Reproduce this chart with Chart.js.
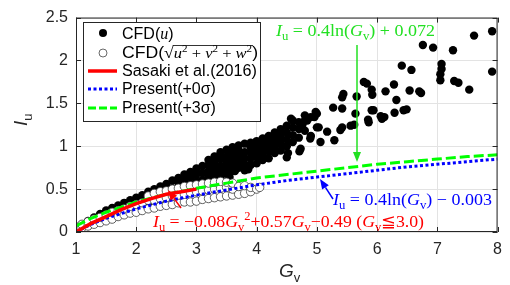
<!DOCTYPE html>
<html>
<head>
<meta charset="utf-8">
<script src="https://cdn.jsdelivr.net/npm/chart.js@4"></script>
<style>
  html, body { margin: 0; padding: 0; background: #fff; }
  canvas { display: block; }
</style>
</head>
<body>
<canvas id="chart" width="510" height="285"></canvas>
<script>
// values
const xTicks = [1, 2, 3, 4, 5, 6, 7, 8];
const yTicks = [0, 0.5, 1, 1.5, 2, 2.5];

// CFD(u) : filled dots
const cfdU = [
  [1.00,0.02],[1.00,0.06],[1.05,0.05],[1.10,0.05],[1.10,0.09],[1.15,0.08],
  [1.20,0.07],[1.20,0.13],[1.25,0.10],[1.30,0.10],[1.30,0.17],[1.35,0.14],
  [1.40,0.12],[1.40,0.17],[1.40,0.21],[1.50,0.15],[1.50,0.20],[1.50,0.25],
  [1.60,0.16],[1.60,0.22],[1.60,0.28],[1.70,0.19],[1.70,0.25],[1.70,0.31],
  [1.80,0.21],[1.80,0.28],[1.80,0.34],[1.90,0.24],[1.90,0.31],[1.90,0.37],
  [2.00,0.27],[2.00,0.34],[2.00,0.40],[2.10,0.28],[2.10,0.35],[2.10,0.43],
  [2.20,0.31],[2.20,0.39],[2.20,0.47],[2.30,0.34],[2.30,0.42],[2.30,0.50],
  [2.40,0.37],[2.40,0.45],[2.40,0.53],[2.50,0.40],[2.50,0.48],[2.50,0.56],
  [2.60,0.43],[2.60,0.51],[2.60,0.60],
  [2.70,0.45],[2.70,0.52],[2.70,0.58],[2.70,0.63],
  [2.80,0.47],[2.80,0.54],[2.80,0.61],[2.80,0.67],
  [2.90,0.49],[2.90,0.56],[2.90,0.64],[2.90,0.70],
  [3.00,0.52],[3.00,0.59],[3.00,0.67],[3.00,0.74],
  [3.10,0.54],[3.10,0.61],[3.10,0.69],[3.10,0.77],
  [3.20,0.57],[3.20,0.64],[3.20,0.71],[3.20,0.78],[3.20,0.84],
  [3.30,0.60],[3.30,0.67],[3.30,0.74],[3.30,0.81],[3.30,0.88],
  [3.40,0.63],[3.40,0.70],[3.40,0.77],[3.40,0.85],[3.40,0.93],
  [3.50,0.68],[3.50,0.74],[3.50,0.81],[3.50,0.88],[3.50,0.96],
  [3.60,0.71],[3.60,0.78],[3.60,0.85],[3.60,0.92],[3.60,0.99],
  [3.70,0.75],[3.70,0.82],[3.70,0.89],[3.70,0.95],[3.70,1.01],
  [3.80,0.72],[3.80,0.79],[3.80,0.86],[3.80,0.93],[3.80,1.03],
  [3.90,0.78],[3.90,0.86],[3.90,0.93],[3.90,0.99],[3.90,1.04],
  [4.00,0.80],[4.00,0.88],[4.00,0.95],[4.00,1.01],[4.00,1.06],
  [4.10,0.84],[4.10,0.91],[4.10,0.98],[4.10,1.04],[4.10,1.09],
  [4.20,0.86],[4.20,0.94],[4.20,1.01],[4.20,1.07],[4.20,1.12],
  [4.30,0.92],[4.30,0.99],[4.30,1.06],[4.30,1.13],[4.30,1.16],
  [4.40,0.95],[4.40,1.03],[4.40,1.10],[4.40,1.16],[4.40,1.20],
  [4.50,1.00],[4.50,1.08],[4.50,1.16],[4.50,1.24],
  [4.60,1.05],[4.60,1.13],[4.60,1.22],[4.60,1.30],
  [4.70,1.10],[4.70,1.20],[4.70,1.28],[4.80,1.18],[4.80,1.30],[4.80,1.36],
  [4.90,1.12],[4.90,1.34],[5.00,1.22],[5.00,1.38],
  [3.48,0.73],[3.55,0.64],[3.64,0.71],[3.86,0.73],
  [4.50,0.87],[4.52,0.92],[4.71,0.94],[4.73,0.97],[4.89,1.09],[5.06,1.05],
  [5.29,1.07],[5.17,1.17],[5.39,1.19],[5.42,1.22],[5.56,1.24],[5.62,1.25],
  [5.86,1.28],[5.85,1.31],[5.64,1.38],[5.91,1.42],[5.94,1.42],[5.27,1.45],
  [5.42,1.44],[4.98,1.40],[4.96,1.34],[5.03,1.22],[4.57,1.32],[4.76,1.25],[4.84,1.30],
  [5.44,1.61],[5.42,1.57],[5.66,1.58],[5.91,1.66],[5.92,1.60],[5.78,1.75],[5.83,1.73],
  [6.06,1.35],[6.08,1.32],[6.12,1.34],[6.29,1.39],[6.44,1.42],[6.49,1.43],
  [6.14,1.64],[6.28,1.72],[6.32,1.54],[6.41,1.94],[6.57,1.89],[6.54,1.65],
  [6.70,1.64],[6.73,1.62],[6.76,2.18],[6.93,2.15],[7.26,2.12],[7.61,2.29],
  [7.91,2.34],[7.91,1.87],[7.07,1.96],[7.07,1.90],[7.05,1.84],[7.05,1.77],
  [7.28,1.76],[7.35,1.74],[7.53,1.66]
];

// CFD(sqrt(u^2+v^2+w^2)) : open circles
const cfdUVW = [
  [1.00,0.03],[1.00,0.06],[1.05,0.05],[1.10,0.05],[1.10,0.09],
  [1.20,0.07],[1.20,0.12],[1.30,0.09],[1.30,0.15],[1.40,0.11],[1.40,0.17],
  [1.50,0.13],[1.50,0.20],[1.60,0.15],[1.60,0.23],[1.70,0.18],[1.70,0.25],
  [1.80,0.20],[1.80,0.27],[1.90,0.22],[1.90,0.30],[2.00,0.23],[2.00,0.32],
  [2.10,0.25],[2.10,0.34],[2.20,0.27],[2.20,0.37],[2.20,0.42],
  [2.30,0.28],[2.30,0.37],[2.30,0.45],[2.40,0.30],[2.40,0.39],[2.40,0.47],
  [2.50,0.31],[2.50,0.40],[2.50,0.48],[2.60,0.32],[2.60,0.42],[2.60,0.50],
  [2.70,0.34],[2.70,0.43],[2.70,0.51],[2.80,0.35],[2.80,0.44],[2.80,0.53],
  [2.90,0.35],[2.90,0.46],[2.90,0.54],[3.00,0.36],[3.00,0.47],[3.00,0.55],
  [3.10,0.38],[3.10,0.48],[3.10,0.56],[3.20,0.39],[3.20,0.49],[3.20,0.57],
  [3.30,0.40],[3.30,0.50],[3.30,0.58],[3.40,0.41],[3.40,0.51],[3.40,0.59],
  [3.50,0.42],[3.50,0.52],[3.50,0.58],[3.60,0.43],[3.60,0.50],[3.60,0.57],
  [3.70,0.44],[3.70,0.53],[3.80,0.45],[3.80,0.54],[3.90,0.47],[3.90,0.52],
  [4.00,0.50],[4.05,0.52]
];

// fitted curves
const sasakiX = [1, 1.25, 1.5, 1.75, 2, 2.25, 2.5, 2.75, 3];
const sasakiY = [0.0, 0.10, 0.18, 0.26, 0.33, 0.39, 0.44, 0.47, 0.50];
const presentX = [1, 1.25, 1.5, 2, 2.5, 3, 3.5, 4, 4.5, 5, 5.5, 6, 6.5, 7, 7.5, 8];
const present0Y = [0.0, 0.09, 0.16, 0.27, 0.36, 0.43, 0.49, 0.55, 0.60, 0.64, 0.68, 0.72, 0.76, 0.79, 0.82, 0.85];
const present3Y = [0.07, 0.16, 0.23, 0.35, 0.44, 0.51, 0.57, 0.63, 0.67, 0.71, 0.75, 0.79, 0.82, 0.85, 0.88, 0.90];

const SANS = '"Liberation Sans", Arial, Helvetica, sans-serif';
const SERIF = '"Liberation Serif", "Times New Roman", serif';
const AXIS = '#262626';
const GREEN = '#00ff00', GREEN_TXT = '#22e022', BLUE = '#0000ff', RED = '#ff0000';

const pts = arr => arr.map(p => ({ x: p[0], y: p[1] }));
const line = (xs, ys) => xs.map((v, i) => ({ x: v, y: ys[i] }));

// draws a row of text pieces [text, font, dy]; optional width stretches it
function rich(ctx, x, y, parts, width) {
  let total = 0;
  parts.forEach(p => { ctx.font = p[1]; total += ctx.measureText(p[0]).width; });
  const sx = width ? width / total : 1;
  const pos = [];
  ctx.save();
  ctx.translate(x, y);
  ctx.scale(sx, 1);
  let cx = 0;
  parts.forEach(p => {
    ctx.font = p[1];
    const w = ctx.measureText(p[0]).width;
    ctx.fillText(p[0], cx, p[2] || 0);
    pos.push([x + cx * sx, x + (cx + w) * sx]);
    cx += w;
  });
  ctx.restore();
  return pos;
}

function seg(ctx, x1, y1, x2, y2) {
  ctx.beginPath(); ctx.moveTo(x1, y1); ctx.lineTo(x2, y2); ctx.stroke();
}

function arrow(ctx, x1, y1, x2, y2, color) {
  const ang = Math.atan2(y2 - y1, x2 - x1), len = 10, half = 4;
  ctx.strokeStyle = color; ctx.fillStyle = color; ctx.lineWidth = 1.5;
  const bx = x2 - len * Math.cos(ang), by = y2 - len * Math.sin(ang);
  seg(ctx, x1, y1, bx, by);
  ctx.beginPath();
  ctx.moveTo(x2, y2);
  ctx.lineTo(bx + half * Math.sin(ang), by - half * Math.cos(ang));
  ctx.lineTo(bx - half * Math.sin(ang), by + half * Math.cos(ang));
  ctx.closePath(); ctx.fill();
}

const it = s => `italic ${s}px ${SERIF}`;
const rm = s => `${s}px ${SERIF}`;

const overlay = {
  id: 'overlay',
  afterDraw(chart) {
    const { ctx, chartArea: a, scales: { x, y } } = chart;
    ctx.save();

    // axes box and inward ticks
    ctx.strokeStyle = AXIS; ctx.lineWidth = 1;
    ctx.strokeRect(a.left + 0.5, a.top + 0.5, a.right - a.left - 1, a.bottom - a.top - 1);
    xTicks.forEach(v => {
      const px = Math.round(x.getPixelForValue(v)) + 0.5;
      seg(ctx, px, a.bottom, px, a.bottom - 5);
      seg(ctx, px, a.top, px, a.top + 5);
    });
    yTicks.forEach(v => {
      const py = Math.round(y.getPixelForValue(v)) + 0.5;
      seg(ctx, a.left, py, a.left + 5, py);
      seg(ctx, a.right, py, a.right - 5, py);
    });

    // axis titles
    ctx.fillStyle = AXIS; ctx.textAlign = 'left'; ctx.textBaseline = 'alphabetic';
    rich(ctx, 279, 277, [['G', `italic 19px ${SANS}`], ['v', `13px ${SANS}`, 5]]);
    ctx.save();
    ctx.translate(27, 126); ctx.rotate(-Math.PI / 2);
    rich(ctx, 0, 0, [['I', `italic 19px ${SANS}`], ['u', `13px ${SANS}`, 5]]);
    ctx.restore();

    // legend
    const L = { l: 83, t: 22, r: 260, b: 121 };
    ctx.fillStyle = '#fff';
    ctx.fillRect(L.l, L.t, L.r - L.l, L.b - L.t);
    ctx.strokeStyle = AXIS; ctx.lineWidth = 1;
    ctx.strokeRect(L.l + 0.5, L.t + 0.5, L.r - L.l, L.b - L.t);

    ctx.fillStyle = '#000';
    ctx.beginPath(); ctx.arc(103, 33, 4, 0, Math.PI * 2); ctx.fill();
    ctx.strokeStyle = '#444'; ctx.lineWidth = 0.8;
    ctx.beginPath(); ctx.arc(103, 53, 4, 0, Math.PI * 2); ctx.stroke();

    ctx.lineWidth = 3.5; ctx.strokeStyle = RED; ctx.setLineDash([]);
    seg(ctx, 88, 71, 117, 71);
    ctx.lineWidth = 3; ctx.strokeStyle = BLUE; ctx.setLineDash([3, 2.5]);
    seg(ctx, 88, 89, 117, 89);
    ctx.strokeStyle = GREEN; ctx.setLineDash([8, 3]);
    seg(ctx, 88, 108, 117, 108);
    ctx.setLineDash([]);

    ctx.fillStyle = '#000';
    const lf = `16px ${SANS}`;
    rich(ctx, 122, 39, [['CFD(', lf], ['u', it(16)], [')', lf]]);
    const p = rich(ctx, 122, 58, [
      ['CFD(', `16px ${SANS}`], ['\u221A', rm(16)],
      ['u', it(15)], ['2', rm(10), -6], [' + ', rm(15)],
      ['v', it(15)], ['2', rm(10), -6], [' + ', rm(15)],
      ['w', it(15)], ['2', rm(10), -6], [')', `16px ${SANS}`]
    ], 136);
    ctx.strokeStyle = '#000'; ctx.lineWidth = 0.8;
    seg(ctx, p[1][1] - 1, 45.5, p[9][1] + 1, 45.5);
    rich(ctx, 122, 76, [['Sasaki et al.(2016)', lf]], 135);
    rich(ctx, 122, 94, [['Present(+0\u03C3)', lf]]);
    rich(ctx, 122, 113, [['Present(+3\u03C3)', lf]]);

    // annotations
    ctx.fillStyle = GREEN_TXT;
    rich(ctx, 276, 36, [['I', it(17)], ['u', rm(12), 4], [' = 0.4ln(', rm(17)], ['G', it(17)], ['v', rm(12), 4], [') + 0.072', rm(17)]], 159);
    arrow(ctx, 357, 45, 357, 162, GREEN_TXT);

    ctx.fillStyle = BLUE;
    rich(ctx, 333, 205, [['I', it(17)], ['u', rm(12), 4], [' = 0.4ln(', rm(17)], ['G', it(17)], ['v', rm(12), 4], [') \u2212 0.003', rm(17)]], 159);
    arrow(ctx, 333, 199, 320, 179, BLUE);

    ctx.fillStyle = RED;
    rich(ctx, 153, 227, [
      ['I', it(17)], ['u', rm(12), 4], [' = \u22120.08', rm(17)],
      ['G', it(17)], ['v', rm(12), 4], ['2', rm(12), -7], ['+0.57', rm(17)],
      ['G', it(17)], ['v', rm(12), 4], ['\u22120.49 (', rm(17)],
      ['G', it(17)], ['v', rm(12), 4], ['\u22663.0)', rm(17)]
    ], 271);
    arrow(ctx, 181, 208, 168, 190, RED);

    ctx.restore();
  }
};

new Chart(document.getElementById('chart'), {
  type: 'scatter',
  data: {
    datasets: [
      { label: 'Sasaki et al.(2016)', data: line(sasakiX, sasakiY), showLine: true,
        borderColor: RED, borderWidth: 3.5, pointRadius: 0, order: 0 },
      { label: 'Present(+0\u03C3)', data: line(presentX, present0Y), showLine: true,
        borderColor: BLUE, borderWidth: 3, borderDash: [3, 2.5], pointRadius: 0, order: 0 },
      { label: 'Present(+3\u03C3)', data: line(presentX, present3Y), showLine: true,
        borderColor: GREEN, borderWidth: 3, borderDash: [10, 4], pointRadius: 0, order: 0 },
      { label: 'CFD(sqrt)', data: pts(cfdUVW), pointRadius: 4.2, borderWidth: 0.8,
        borderColor: '#3a3a3a', backgroundColor: '#fff', order: 1 },
      { label: 'CFD(u)', data: pts(cfdU), pointRadius: 4.2, borderWidth: 0,
        backgroundColor: '#000', borderColor: '#000', order: 2 }
    ]
  },
  options: {
    responsive: false,
    animation: false,
    layout: { padding: { top: 14, right: 8, left: 0, bottom: 0 } },
    plugins: { legend: { display: false }, tooltip: { enabled: false } },
    scales: {
      x: {
        type: 'linear', min: 1, max: 8,
        afterFit: s => { s.height = 53; },
        afterBuildTicks: s => { s.ticks = xTicks.map(v => ({ value: v })); },
        grid: { color: '#e3e3e3', drawTicks: false },
        border: { display: false },
        ticks: { color: AXIS, padding: 8, font: { family: SANS, size: 16 }, callback: v => String(v) }
      },
      y: {
        type: 'linear', min: 0, max: 2.5,
        afterFit: s => { s.width = 76; },
        afterBuildTicks: s => { s.ticks = yTicks.map(v => ({ value: v })); },
        grid: { color: '#e3e3e3', drawTicks: false },
        border: { display: false },
        ticks: { color: AXIS, padding: 8, font: { family: SANS, size: 16 }, callback: v => String(v) }
      }
    }
  },
  plugins: [overlay]
});
</script>
</body>
</html>
